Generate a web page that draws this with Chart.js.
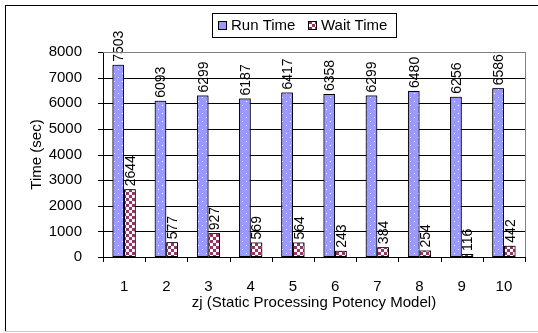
<!DOCTYPE html>
<html>
<head>
<meta charset="utf-8">
<script src="https://cdn.jsdelivr.net/npm/chart.js@4.4.0/dist/chart.umd.min.js"></script>
<style>
    html, body { margin: 0; padding: 0; background: #fff; }
    #wrap { width: 538px; height: 333px; position: relative; }
</style>
</head>
<body>
<div id="wrap"><canvas id="chart"></canvas></div>
<script>
const categories = ['1', '2', '3', '4', '5', '6', '7', '8', '9', '10'];
const runTime = [7503, 6093, 6299, 6187, 6417, 6358, 6299, 6480, 6256, 6586];
const waitTime = [2644, 577, 927, 569, 564, 243, 384, 254, 116, 442];
const yTicks = [1000, 2000, 3000, 4000, 5000, 6000, 7000];
const yMax = 8000;
const yStep = 1000;

const FONT = 'Liberation Sans, Arial, sans-serif';

function makeRunPattern() {
    const c = document.createElement('canvas');
    c.width = 8; c.height = 8;
    const g = c.getContext('2d');
    g.fillStyle = '#9999ff';
    g.fillRect(0, 0, 8, 8);
    g.fillStyle = '#ffffff';
    g.fillRect(2, 1, 1, 1);
    g.fillRect(6, 5, 1, 1);
    return g.createPattern(c, 'repeat');
}

function makeWaitPattern() {
    const c = document.createElement('canvas');
    c.width = 6; c.height = 6;
    const g = c.getContext('2d');
    g.fillStyle = '#ffffff';
    g.fillRect(0, 0, 6, 6);
    g.fillStyle = '#993366';
    g.fillRect(0, 0, 3, 3);
    g.fillRect(3, 3, 3, 3);
    return g.createPattern(c, 'repeat');
}

const runFill = makeRunPattern();
const waitFill = makeWaitPattern();

// full width grid lines, bars get painted again on top afterwards
function drawGrid(chart) {
    const ctx = chart.ctx;
    const a = chart.chartArea;
    const scale = chart.scales.y;
    const left = Math.round(a.left);
    const w = Math.round(a.right) - left;
    ctx.save();
    ctx.globalAlpha = 1;
    ctx.globalCompositeOperation = 'source-over';
    ctx.fillStyle = 'rgb(0,0,0)';
    yTicks.forEach(v => {
        const py = Math.round(scale.bottom - (scale.bottom - scale.top) * v / yMax);
        ctx.fillRect(left, py, w, 1);
    });
    ctx.restore();
}

function redrawBars(chart) {
    chart.data.datasets.forEach((ds, i) => {
        const meta = chart.getDatasetMeta(i);
        meta.data.forEach(bar => bar.draw(chart.ctx, chart.chartArea));
    });
}

function drawTickMarks(chart) {
    const ctx = chart.ctx;
    const a = chart.chartArea;
    const y = chart.scales.y;
    const left = Math.round(a.left);
    const bottom = Math.round(a.bottom);
    ctx.save();
    ctx.fillStyle = '#000000';
    for (let v = 0; v <= yMax; v += yStep) {
        const py = Math.round(y.getPixelForValue(v));
        ctx.fillRect(left - 5, py, 5, 1);
    }
    for (let i = 0; i <= categories.length; i++) {
        const px = Math.round(a.left + (a.right - a.left) * i / categories.length);
        ctx.fillRect(px, bottom, 1, 5);
    }
    ctx.restore();
}

function drawValueLabels(chart) {
    const ctx = chart.ctx;
    ctx.save();
    ctx.fillStyle = '#000';
    ctx.font = '14px ' + FONT;
    ctx.textAlign = 'left';
    ctx.textBaseline = 'middle';
    chart.data.datasets.forEach((ds, i) => {
        chart.getDatasetMeta(i).data.forEach((bar, j) => {
            ctx.save();
            ctx.translate(bar.x, bar.y - 3);
            ctx.rotate(-Math.PI / 2);
            ctx.fillText(String(ds.data[j]), 0, 1);
            ctx.restore();
        });
    });
    ctx.restore();
}

const decorations = {
    id: 'decorations',
    beforeDraw(chart) {
        const ctx = chart.ctx;
        ctx.save();
        ctx.fillStyle = '#fff';
        ctx.fillRect(0, 0, chart.width, chart.height);
        ctx.restore();
    },
    afterDraw(chart) {
        const ctx = chart.ctx;
        const a = chart.chartArea;
        drawGrid(chart);
        redrawBars(chart);
        drawTickMarks(chart);
        drawValueLabels(chart);
        ctx.save();
        ctx.fillStyle = '#000';
        ctx.fillRect(5, 5, 533, 1);
        ctx.fillRect(5, 5, 1, 327);
        ctx.fillStyle = '#c8c8c8';
        ctx.fillRect(5, 331, 533, 1);

        ctx.fillStyle = '#808080';
        ctx.fillRect(Math.round(a.left), Math.round(a.top), Math.round(a.right) - Math.round(a.left) + 1, 1);
        ctx.fillRect(Math.round(a.right), Math.round(a.top), 1, Math.round(a.bottom) - Math.round(a.top));

        const lx = 212, ly = 13, lw = 184, lh = 24;
        ctx.fillStyle = '#fff';
        ctx.fillRect(lx, ly, lw, lh);
        ctx.strokeStyle = '#000';
        ctx.lineWidth = 1;
        ctx.strokeRect(lx + 0.5, ly + 0.5, lw, lh);
        ctx.font = '15px ' + FONT;
        ctx.textBaseline = 'middle';
        ctx.textAlign = 'left';
        const items = [
            { fill: runFill, text: chart.data.datasets[0].label, x: 218 },
            { fill: waitFill, text: chart.data.datasets[1].label, x: 308 }
        ];
        items.forEach(it => {
            ctx.fillStyle = it.fill;
            ctx.fillRect(it.x, ly + 8, 9, 9);
            ctx.strokeStyle = '#000';
            ctx.strokeRect(it.x + 0.5, ly + 8.5, 8, 8);
            ctx.fillStyle = '#000';
            ctx.fillText(it.text, it.x + 13, ly + lh / 2 + 1);
        });
        ctx.restore();
    }
};

new Chart(document.getElementById('chart'), {
    type: 'bar',
    data: {
        labels: categories,
        datasets: [{
            label: 'Run Time',
            data: runTime,
            backgroundColor: runFill,
            borderColor: '#000',
            borderWidth: 1,
            borderSkipped: false
        }, {
            label: 'Wait Time',
            data: waitTime,
            backgroundColor: waitFill,
            borderColor: '#000',
            borderWidth: 1,
            borderSkipped: false
        }]
    },
    options: {
        responsive: true,
        maintainAspectRatio: false,
        animation: false,
        devicePixelRatio: 1,
        categoryPercentage: 0.55,
        barPercentage: 1,
        layout: { padding: { left: 0, right: 13, top: 52, bottom: 0 } },
        plugins: {
            legend: { display: false },
            tooltip: { enabled: false }
        },
        scales: {
            x: {
                afterFit(scale) { scale.height = 76; },
                grid: { display: false },
                border: { color: '#000' },
                ticks: {
                    color: '#000',
                    font: { family: FONT, size: 15 },
                    padding: 13
                },
                title: {
                    display: true,
                    text: 'zj (Static Processing Potency Model)',
                    color: '#000',
                    font: { family: FONT, size: 15 },
                    padding: { top: 0, bottom: 21 }
                }
            },
            y: {
                min: 0,
                max: yMax,
                afterFit(scale) { scale.width = 103; },
                grid: { display: false },
                border: { color: '#000' },
                ticks: {
                    stepSize: yStep,
                    color: '#000',
                    font: { family: FONT, size: 15 },
                    padding: 13,
                    callback: v => String(v)
                },
                title: {
                    display: true,
                    text: 'Time (sec)',
                    color: '#000',
                    font: { family: FONT, size: 15 },
                    padding: { top: 28, bottom: 0 }
                }
            }
        }
    },
    plugins: [decorations]
});
</script>
</body>
</html>
